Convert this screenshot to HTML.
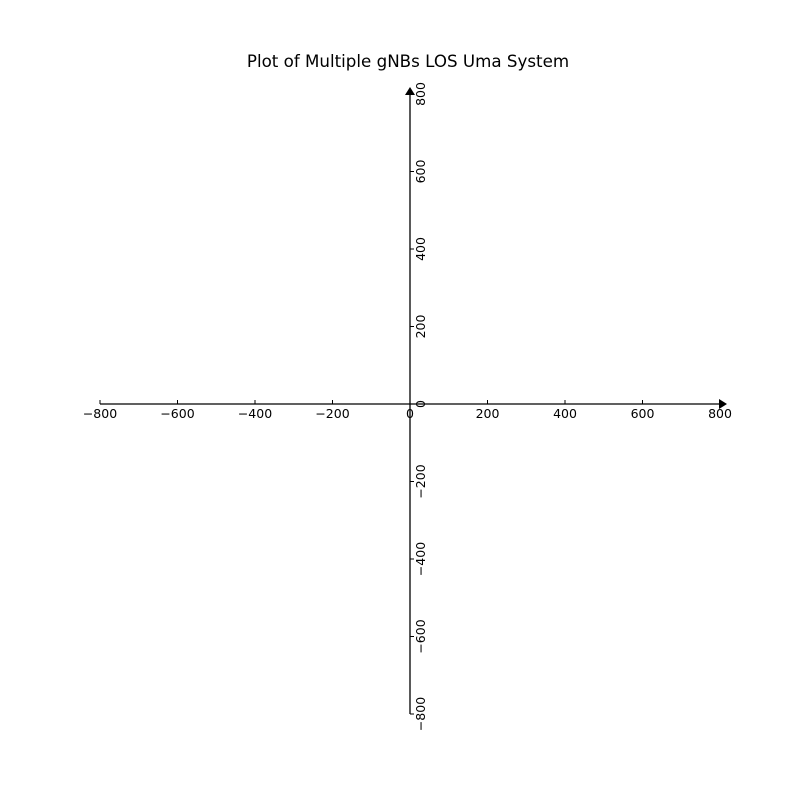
<!DOCTYPE html>
<html><head><meta charset="utf-8"><style>
html,body{margin:0;padding:0;background:#fff;}
svg{display:block;font-family:"DejaVu Sans","Liberation Sans",sans-serif;}
</style></head><body>
<svg id="chart" width="800" height="800" viewBox="0 0 800 800">
<rect width="800" height="800" fill="#fff"/>
<text x="408" y="67" text-anchor="middle" font-size="16.7" fill="#000">Plot of Multiple gNBs LOS Uma System</text>
<g id="axes"></g>
</svg>
<script>
const xTicks = [-800, -600, -400, -200, 0, 200, 400, 600, 800];
const yTicks = [-800, -600, -400, -200, 0, 200, 400, 600, 800];
const xLabels = ["\u2212800","\u2212600","\u2212400","\u2212200","0","200","400","600","800"];
const yLabels = ["\u2212800","\u2212600","\u2212400","\u2212200","0","200","400","600","800"];
const xs = v => 410 + v * 0.3875;
const ys = v => 404 - v * 0.3875;
const NS = "http://www.w3.org/2000/svg";
const g = document.getElementById('axes');
function mk(tag, attrs){const e=document.createElementNS(NS,tag);for(const k in attrs)e.setAttribute(k,attrs[k]);g.appendChild(e);return e;}
let e;
e = mk('line',{x1:xs(-800),y1:404,x2:xs(800)+3,y2:404,stroke:'#000','stroke-width':1.3});


e = mk('path',{d:`M${xs(800)-1},399 L${xs(800)+7},404 L${xs(800)-1},409 Z`,fill:'#000'});


e = mk('line',{x1:410,y1:ys(-800),x2:410,y2:ys(800)-3,stroke:'#000','stroke-width':1.3});


e = mk('path',{d:`M405,${ys(800)+1} L410,${ys(800)-7} L415,${ys(800)+1} Z`,fill:'#000'});


xTicks.forEach((v,i)=>{
  const t = mk('line',{x1:xs(v),y1:404,x2:xs(v),y2:400,stroke:'#000','stroke-width':1});
  
  
  const l = mk('text',{x:xs(v),y:418,'text-anchor':'middle','font-size':12.5,fill:'#000'});
  l.textContent = xLabels[i];
  
  
});
yTicks.forEach((v,i)=>{
  const t = mk('line',{x1:410,y1:ys(v),x2:414,y2:ys(v),stroke:'#000','stroke-width':1});
  
  
  const l = mk('text',{x:0,y:0,'text-anchor':'middle','font-size':12.5,fill:'#000',transform:`translate(425,${ys(v)}) rotate(-90)`});
  l.textContent = yLabels[i];
  
  
});
</script>
</body></html>
